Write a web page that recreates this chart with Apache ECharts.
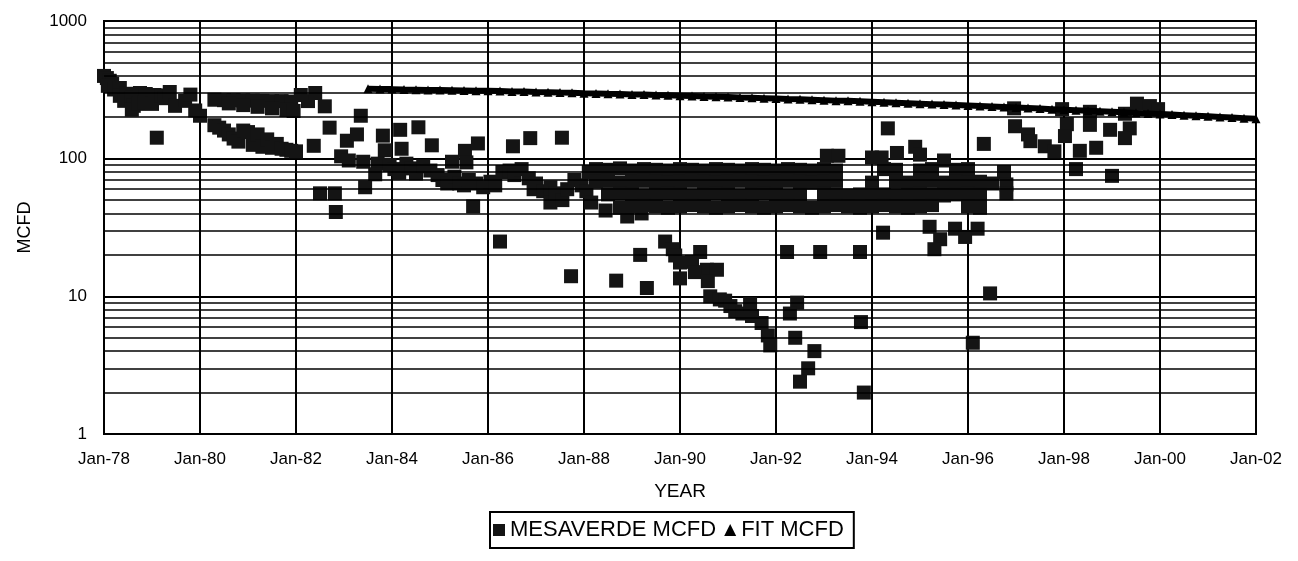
<!DOCTYPE html>
<html>
<head>
<meta charset="utf-8">
<script src="https://cdn.jsdelivr.net/npm/echarts@6/dist/echarts.min.js"></script>
<style>html,body{margin:0;padding:0;background:#fff;}#c{width:1298px;height:561px;}</style>
</head>
<body>
<div id="c"></div>
<script>
// ---- data (decimal year, MCFD) ----
const mvEarly = [[1978.00,399],[1978.06,385],[1978.12,368],[1978.17,350],[1978.08,338],[1978.21,318],[1978.33,326],[1978.33,286],[1978.46,296],[1978.42,263],[1978.58,276],[1978.62,242],[1978.58,227],[1978.71,250],[1978.75,300],[1978.87,295],[1978.85,255],[1979.00,250],[1979.05,290],[1979.20,288],[1979.10,142],[1979.27,275],[1979.37,305],[1979.48,242],[1979.69,263],[1979.80,292],[1979.90,224],[1980.00,205]];
const mvBlock = [[1980.30,268],[1980.50,266],[1980.70,266],[1980.90,265],[1981.10,264],[1981.30,263],[1981.50,262],[1981.70,262],[1981.90,260],
  [1980.60,252],[1980.90,245],[1981.20,238],[1981.50,232],[1981.80,226],[1981.95,222],
  [1980.30,175],[1980.40,168],[1980.50,160],[1980.60,150],[1980.70,140],[1980.80,133],[1980.90,160],[1981.00,156],[1981.10,126],[1981.20,150],[1981.30,122],[1981.40,138],[1981.50,120],[1981.60,128],[1981.70,118],[1981.80,116],[1981.90,114],[1982.00,113]];
const mv1982 = [[1982.10,290],[1982.25,262],[1982.40,300],[1982.37,124],[1982.60,240],[1982.70,168],[1982.94,104],[1983.06,135],[1983.27,150],[1983.35,205],[1983.81,147],[1983.85,115],[1983.10,97],[1983.40,95],[1983.70,92],[1983.65,77],[1983.44,62],[1982.50,56],[1982.81,56],[1982.83,41]];
const mv1984 = [[1984.17,162],[1984.55,169],[1984.20,118],[1984.83,125],[1985.52,114],[1985.79,129],[1986.52,123],[1986.88,141],[1987.54,142],[1985.69,45],[1986.25,25],
  [1983.95,90],[1984.05,84],[1984.15,79],[1984.30,92],[1984.40,85],[1984.50,78],[1984.65,88],[1984.80,82],[1984.95,76],[1985.05,70],[1985.15,66],[1985.25,95],[1985.30,74],[1985.40,66],[1985.50,64],[1985.55,94],[1985.60,70],[1985.75,66],[1985.90,62],[1986.05,68],[1986.15,64],[1986.30,80],[1986.45,82],[1986.55,76],[1986.70,84],[1986.85,72],[1986.95,60],[1987.00,66],[1987.15,58],[1987.30,48],[1987.30,62],[1987.40,56],[1987.55,50],[1987.65,60],[1987.80,70],[1987.95,64],[1988.05,58],[1988.15,48],[1988.10,80],[1988.45,42],[1988.90,38],[1989.20,40]];
const mvBand83 = [[1988.25,84],[1988.50,83],[1988.75,85],[1989.00,82],[1989.25,84],[1989.50,83],[1989.75,82],[1990.00,84],[1990.25,83],[1990.50,82],[1990.75,84],[1991.00,83],[1991.25,82],[1991.50,84],[1991.75,83],[1992.00,82],[1992.25,84],[1992.50,83],[1992.75,82],[1993.00,84],[1993.25,82],[1994.25,84],[1994.50,83],[1995.00,82],[1995.25,84],[1995.75,83],[1996.00,84]];
const mvBand68 = [[1988.25,68],[1988.50,69],[1988.75,67],[1989.00,68],[1989.25,69],[1989.50,68],[1989.75,67],[1990.00,68],[1990.25,69],[1990.50,68],[1990.75,67],[1991.00,68],[1991.25,69],[1991.50,68],[1991.75,67],[1992.00,68],[1992.25,69],[1992.50,68],[1992.75,67],[1993.00,68],[1993.25,69],[1994.00,67],[1994.50,68],[1994.75,67],[1995.00,68],[1995.25,69],[1995.50,67],[1995.75,68],[1996.00,67],[1996.25,68],[1996.50,66]];
const mvBand55 = [[1988.50,55],[1988.75,56],[1989.00,55],[1989.25,54],[1989.50,55],[1989.75,56],[1990.00,55],[1990.25,54],[1990.50,55],[1990.75,56],[1991.00,55],[1991.25,54],[1991.50,55],[1991.75,56],[1992.00,55],[1992.25,54],[1992.50,55],[1993.00,56],[1993.25,55],[1993.50,54],[1993.75,55],[1994.00,56],[1994.25,55],[1994.50,54],[1994.75,55],[1995.00,56],[1995.25,55],[1995.50,54],[1995.75,55],[1996.00,56],[1996.25,55]];
const mvBand45 = [[1988.75,44],[1989.00,45],[1989.25,46],[1989.50,45],[1989.75,44],[1990.00,45],[1990.25,46],[1990.50,45],[1990.75,44],[1991.00,45],[1991.25,46],[1991.50,45],[1991.75,44],[1992.00,45],[1992.25,46],[1992.50,45],[1992.75,44],[1993.00,45],[1993.25,46],[1993.50,45],[1993.75,44],[1994.00,45],[1994.25,46],[1994.50,45],[1994.75,44],[1995.00,45],[1995.25,46],[1996.00,45],[1996.25,44]];
const mvLow = [[1987.73,14],[1988.67,13],[1989.31,11.5],[1989.17,20],[1989.69,25],[1989.85,22],[1989.90,19.8],[1990.00,17.6],[1990.42,21],[1990.25,17.8],[1990.56,15.6],[1990.77,15.6],[1990.00,13.5],[1990.31,15],[1990.58,12.9],[1990.63,10],[1990.83,9.5],[1990.94,9.3],[1991.05,8.5],[1991.15,7.8],[1991.30,7.5],[1991.46,8.8],[1991.50,7.2],[1991.70,6.4],[1991.83,5.2],[1991.88,4.4],[1992.23,21],[1992.44,9],[1992.29,7.5],[1992.40,5],[1992.80,4],[1992.67,3],[1992.50,2.4],[1992.92,21],[1993.75,21],[1993.83,2],[1993.77,6.5],[1994.23,29],[1995.20,32],[1995.42,26],[1995.30,22],[1995.73,31],[1995.94,27],[1996.20,31],[1996.46,10.5],[1996.10,4.6]];
const mvUpper = [[1993.06,105],[1993.30,105],[1994.00,102],[1994.20,102],[1994.33,166],[1994.52,110],[1994.90,122],[1995.00,107],[1995.50,97],[1996.33,128],[1996.96,232],[1996.98,172],[1997.25,150],[1997.30,134],[1997.60,123],[1997.80,113],[1997.96,229],[1998.06,178],[1998.02,146],[1998.33,114],[1998.54,219],[1998.54,176],[1998.67,120],[1998.96,162],[1999.27,212],[1999.37,166],[1999.27,141],[1999.52,251],[1999.79,241],[1999.96,229],[1998.25,84],[1999.00,75],[1996.75,80],[1996.80,65],[1996.80,56]];

const fitYears = [1983.50,1983.75,1984.00,1984.25,1984.50,1984.75,1985.00,1985.25,1985.50,1985.75,1986.00,1986.25,1986.50,1986.75,1987.00,1987.25,1987.50,1987.75,1988.00,1988.25,1988.50,1988.75,1989.00,1989.25,1989.50,1989.75,1990.00,1990.25,1990.50,1990.75,1991.00,1991.25,1991.50,1991.75,1992.00,1992.25,1992.50,1992.75,1993.00,1993.25,1993.50,1993.75,1994.00,1994.25,1994.50,1994.75,1995.00,1995.25,1995.50,1995.75,1996.00,1996.25,1996.50,1996.75,1997.00,1997.25,1997.50,1997.75,1998.00,1998.25,1998.50,1998.75,1999.00,1999.25,1999.50,1999.75,2000.00,2000.25,2000.50,2000.75,2001.00,2001.25,2001.50,2001.75,2002.00];
const fitMcfd = [322,321,320,318,317,316,315,314,313,312,311,310,308,307,305,304,302,301,299,298,296,295,293,292,290,289,287,285,283,282,280,278,277,275,273,271,270,268,266,264,263,261,259,257,255,253,251,249,247,245,243,241,239,237,235,233,231,229,227,225,223,221,219,217,215,213,211,209,207,205,203,201,199,197,195];

const xTicks = [1978,1980,1982,1984,1986,1988,1990,1992,1994,1996,1998,2000,2002];
const minorGridValues = [2,3,4,5,6,7,8,9,20,30,40,50,60,70,80,90,200,300,400,500,600,700,800,900];

// ---- chart ----
const mesaverde = [].concat(mvEarly, mvBlock, mv1982, mv1984, mvBand83, mvBand68, mvBand55, mvBand45, mvLow, mvUpper);
const fit = fitYears.map((y, i) => [y, fitMcfd[i]]);
const FONT = 'Liberation Sans';
const chart = echarts.init(document.getElementById('c'));
chart.setOption({
  animation: false,
  backgroundColor: '#fff',
  textStyle: { fontFamily: FONT, color: '#000' },
  grid: { left: 104, right: 42, top: 21, bottom: 127, show: true, borderColor: '#000', borderWidth: 2 },
  xAxis: {
    type: 'value', min: xTicks[0], max: xTicks[xTicks.length - 1], interval: 2,
    name: 'YEAR', nameLocation: 'middle', nameGap: 48,
    nameTextStyle: { fontFamily: FONT, fontSize: 19, color: '#000' },
    axisLine: { lineStyle: { color: '#000', width: 2 } },
    axisTick: { show: false },
    axisLabel: { fontFamily: FONT, fontSize: 17, color: '#000', margin: 17, formatter: v => 'Jan-' + String(v).slice(2) },
    splitLine: { show: true, lineStyle: { color: '#000', width: 2 } }
  },
  yAxis: {
    type: 'log', logBase: 10, min: 1, max: 1000,
    name: 'MCFD', nameLocation: 'middle', nameGap: 70, nameRotate: 90,
    nameTextStyle: { fontFamily: FONT, fontSize: 18, color: '#000' },
    axisLine: { lineStyle: { color: '#000', width: 2 } },
    axisTick: { show: false },
    axisLabel: { fontFamily: FONT, fontSize: 17, color: '#000', margin: 17, formatter: v => String(v) },
    splitLine: { show: true, lineStyle: { color: '#000', width: 2 } }
  },
  legend: {
    data: [{ name: 'MESAVERDE MCFD', icon: 'rect' }, { name: 'FIT MCFD', icon: 'triangle' }],
    left: 490, top: 512,
    borderColor: '#000', borderWidth: 2, padding: [7, 10, 7, 3],
    itemWidth: 12, itemHeight: 12, itemGap: 8,
    textStyle: { fontFamily: FONT, fontSize: 22, color: '#000' }
  },
  series: [
    {
      type: 'line', data: [], z: 1, silent: true,
      markLine: {
        silent: true, symbol: 'none', label: { show: false },
        lineStyle: { color: '#000', width: 1.5, type: 'solid' },
        data: minorGridValues.map(v => ({ yAxis: v }))
      }
    },
    {
      name: 'MESAVERDE MCFD', type: 'scatter', symbol: 'rect', symbolSize: 14, z: 3,
      itemStyle: { color: '#141414', opacity: 1 }, data: mesaverde
    },
    {
      name: 'FIT MCFD', type: 'line', symbol: 'triangle', symbolSize: 9, showAllSymbol: true, z: 4,
      itemStyle: { color: '#000', opacity: 1 }, lineStyle: { color: '#000', width: 6 }, data: fit
    }
  ]
});
</script>
</body>
</html>
